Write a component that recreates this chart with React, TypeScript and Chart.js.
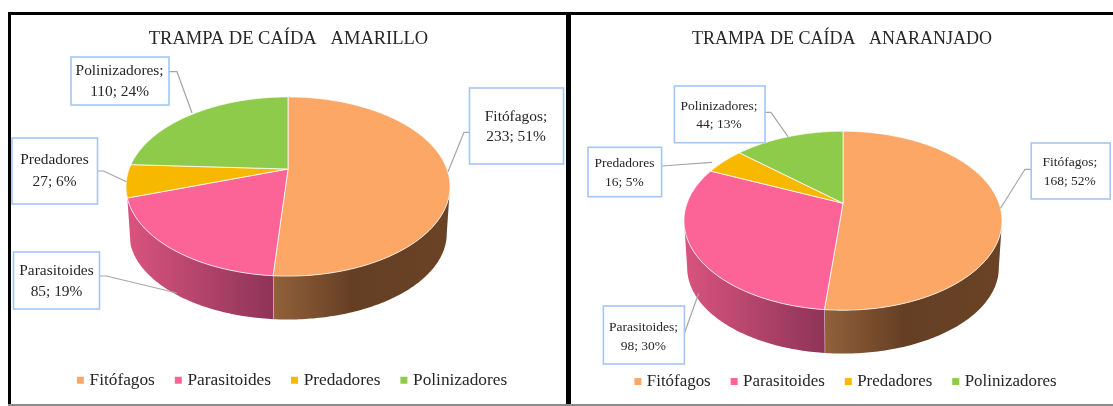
import React, { useEffect, useRef } from "react";
import { Chart, registerables } from "chart.js";

Chart.register(...registerables);

const categories = ["Fitófagos", "Parasitoides", "Predadores", "Polinizadores"];
const amarilloValues = [233, 85, 27, 110];
const anaranjadoValues = [168, 98, 16, 44];
const amarilloLabels = [
  ["Fitófagos;", "233; 51%"],
  ["Parasitoides", "85; 19%"],
  ["Predadores", "27; 6%"],
  ["Polinizadores;", "110; 24%"],
];
const anaranjadoLabels = [
  ["Fitófagos;", "168; 52%"],
  ["Parasitoides;", "98; 30%"],
  ["Predadores", "16; 5%"],
  ["Polinizadores;", "44; 13%"],
];

const faceColors = ["#FDA767", "#FC6497", "#F9B800", "#8FCB4B"];
const sideStops: any[] = [
  [[0, "#93613a"], [0.45, "#653f24"], [1, "#6a4326"]],
  [[0, "#d9547f"], [1, "#8e3457"]],
  null,
  null,
];
const SERIF = "'Liberation Serif', serif";

type Callout = { box: number[]; textX: number; lines: number[]; leader: number[][] };
type Panel = {
  title: string;
  values: number[];
  labels: string[][];
  canvasX: number;
  canvasW: number;
  canvasH: number;
  cx: number;
  cy: number;
  rx: number;
  ry: number;
  titleFont: number;
  labelFont: number;
  legendFont: number;
  legendPadding: number;
  legendShift: number;
  callouts: Callout[];
};

const panels: Panel[] = [
  {
    title: "TRAMPA DE CAÍDA   AMARILLO",
    values: amarilloValues,
    labels: amarilloLabels,
    canvasX: 11,
    canvasW: 555,
    canvasH: 399,
    cx: 288,
    cy: 186.5,
    rx: 162,
    ry: 89.6,
    titleFont: 18.5,
    labelFont: 15.4,
    legendFont: 17.3,
    legendPadding: 23,
    legendShift: 5,
    callouts: [
      { box: [469.5, 88, 94, 76], textX: 516, lines: [116.7, 137], leader: [[469.5, 132.3], [464, 132.3], [448, 171.7]] },
      { box: [13.5, 252, 86, 57], textX: 56.5, lines: [270.7, 291.7], leader: [[99.6, 276], [106.4, 276], [177, 293]] },
      { box: [12, 138, 85.5, 66], textX: 54.5, lines: [160, 181.7], leader: [[97.5, 171], [103.6, 171], [126.4, 181.7]] },
      { box: [71, 57, 98, 48], textX: 119.6, lines: [70.7, 91.7], leader: [[169, 71.7], [177, 71.7], [192, 113]] },
    ],
  },
  {
    title: "TRAMPA DE CAÍDA   ANARANJADO",
    values: anaranjadoValues,
    labels: anaranjadoLabels,
    canvasX: 571,
    canvasW: 542,
    canvasH: 400,
    cx: 843,
    cy: 220.7,
    rx: 159,
    ry: 89.5,
    titleFont: 18,
    labelFont: 13.5,
    legendFont: 16.9,
    legendPadding: 23,
    legendShift: 5,
    callouts: [
      { box: [1031.2, 143, 79, 56], textX: 1069.8, lines: [162.7, 181.3], leader: [[1031, 169.3], [1025, 169.3], [1000.5, 208.3]] },
      { box: [603.4, 306, 81, 58], textX: 643.4, lines: [327.7, 346], leader: [[684.4, 333.3], [698.7, 293.3]] },
      { box: [588, 147.3, 73.6, 49.4], textX: 624.4, lines: [163.3, 182], leader: [[661.6, 166], [712, 162.3]] },
      { box: [674.4, 86, 90.6, 56.7], textX: 719, lines: [106, 124.3], leader: [[765, 112.3], [770.9, 112.3], [788, 136.7]] },
    ],
  },
];

const PERSPECTIVE = -0.195;
const DEPTH = 47;
const FOOT_X = 0.98;
const FOOT_Y = 0.96;

function tiltedPiePlugin(p: Panel) {
  const k = PERSPECTIVE;
  const ax = Math.sqrt(1 - k * k);
  const point = (a: number, foot: boolean) => {
    const x = Math.cos(a);
    const y = Math.sin(a);
    const w = 1 + k * y;
    const px = (p.rx * ax * x) / w;
    const py = (p.ry * (y + k)) / w;
    return foot
      ? [p.cx + px * FOOT_X, p.cy + DEPTH + py * FOOT_Y]
      : [p.cx + px, p.cy + py];
  };
  const samples = (a0: number, a1: number) => {
    const n = Math.max(2, Math.ceil((a1 - a0) / 0.015));
    const out: number[] = [];
    for (let i = 0; i <= n; i++) out.push(a0 + ((a1 - a0) * i) / n);
    return out;
  };
  return {
    id: "tiltedPie",
    afterLayout(chart: any) {
      chart.legend.left += p.legendShift;
      chart.legend.right += p.legendShift;
    },
    beforeDatasetsDraw(chart: any) {
      const ctx: CanvasRenderingContext2D = chart.ctx;
      const arcs = chart.getDatasetMeta(0).data as any[];
      const edge = Math.asin(-k);
      ctx.save();
      ctx.translate(-p.canvasX, 0);

      arcs.forEach((arc, i) => {
        if (!sideStops[i]) return;
        const a0 = Math.max(arc.startAngle, edge);
        const a1 = Math.min(arc.endAngle, Math.PI - edge);
        if (a1 <= a0) return;
        const angles = samples(a0, a1);
        const xEnd = point(a0, false)[0];
        const xStart = point(a1, false)[0];
        const g = ctx.createLinearGradient(xStart, 0, xEnd, 0);
        sideStops[i].forEach(([o, c]: any) => g.addColorStop(o, c));
        ctx.beginPath();
        angles.forEach((a, j) => {
          const [x, y] = point(a, false);
          j ? ctx.lineTo(x, y) : ctx.moveTo(x, y);
        });
        [...angles].reverse().forEach((a) => {
          const [x, y] = point(a, true);
          ctx.lineTo(x, y);
        });
        ctx.closePath();
        ctx.fillStyle = g;
        ctx.fill();
        ctx.strokeStyle = "rgba(255,255,255,0.75)";
        ctx.lineWidth = 1;
        if (i === 0) {
          const [sx, sy] = point(a1, false);
          const [fx, fy] = point(a1, true);
          ctx.beginPath();
          ctx.moveTo(sx, sy);
          ctx.lineTo(fx, fy);
          ctx.stroke();
        }
      });

      const apex = [p.cx, p.cy + p.ry * k];
      arcs.forEach((arc, i) => {
        ctx.beginPath();
        ctx.moveTo(apex[0], apex[1]);
        samples(arc.startAngle, arc.endAngle).forEach((a) => {
          const [x, y] = point(a, false);
          ctx.lineTo(x, y);
        });
        ctx.closePath();
        ctx.fillStyle = faceColors[i];
        ctx.fill();
        ctx.strokeStyle = "rgba(255,255,255,0.75)";
        ctx.lineWidth = 1;
        ctx.stroke();
      });

      p.callouts.forEach((c, i) => {
        ctx.beginPath();
        c.leader.forEach(([x, y], j) => (j ? ctx.lineTo(x, y) : ctx.moveTo(x, y)));
        ctx.strokeStyle = "#a6a6a6";
        ctx.lineWidth = 1.2;
        ctx.stroke();
        ctx.fillStyle = "#ffffff";
        ctx.fillRect(c.box[0], c.box[1], c.box[2], c.box[3]);
        ctx.strokeStyle = "#a3c6f5";
        ctx.lineWidth = 1.6;
        ctx.strokeRect(c.box[0], c.box[1], c.box[2], c.box[3]);
        ctx.fillStyle = "#262626";
        ctx.font = `${p.labelFont}px ${SERIF}`;
        ctx.textAlign = "center";
        ctx.textBaseline = "middle";
        p.labels[i].forEach((t, j) => ctx.fillText(t, c.textX, c.lines[j]));
      });
      ctx.restore();
      return false;
    },
  };
}

function PieChart({ panel }: { panel: Panel }) {
  const ref = useRef<HTMLCanvasElement>(null);
  useEffect(() => {
    const chart = new Chart(ref.current!, {
      type: "pie",
      data: {
        labels: categories,
        datasets: [{ data: panel.values, backgroundColor: faceColors, borderWidth: 0 }],
      },
      options: {
        responsive: false,
        animation: false,
        plugins: {
          tooltip: { enabled: false },
          title: {
            display: true,
            text: panel.title,
            color: "#262626",
            font: { family: SERIF, size: panel.titleFont, weight: "normal" },
            padding: { top: 28, bottom: 4 },
          },
          legend: {
            position: "bottom",
            labels: {
              usePointStyle: true,
              pointStyle: "rect",
              boxWidth: 1,
              boxHeight: 7,
              padding: panel.legendPadding,
              color: "#262626",
              font: { family: SERIF, size: panel.legendFont },
            },
          },
        },
      },
      plugins: [tiltedPiePlugin(panel)],
    } as any);
    return () => chart.destroy();
  }, [panel]);
  return (
    <canvas
      ref={ref}
      width={panel.canvasW}
      height={panel.canvasH}
      style={{ position: "absolute", left: panel.canvasX, top: 0, width: panel.canvasW, height: panel.canvasH }}
    />
  );
}

const bar = (left: number, top: number, width: number, height: number, background: string) => (
  <div style={{ position: "absolute", left, top, width, height, background }} />
);

export default function App() {
  return (
    <div style={{ position: "fixed", inset: 0, width: 1113, height: 406, overflow: "hidden", background: "#fff", filter: "blur(0.4px)" }}>
      {panels.map((p) => (
        <PieChart key={p.title} panel={p} />
      ))}
      {bar(8, 12, 1105, 3, "#000")}
      {bar(8, 12, 3, 392, "#000")}
      {bar(566, 12, 5, 392, "#000")}
      {bar(8, 404, 1105, 2, "#8c8c8c")}
    </div>
  );
}
